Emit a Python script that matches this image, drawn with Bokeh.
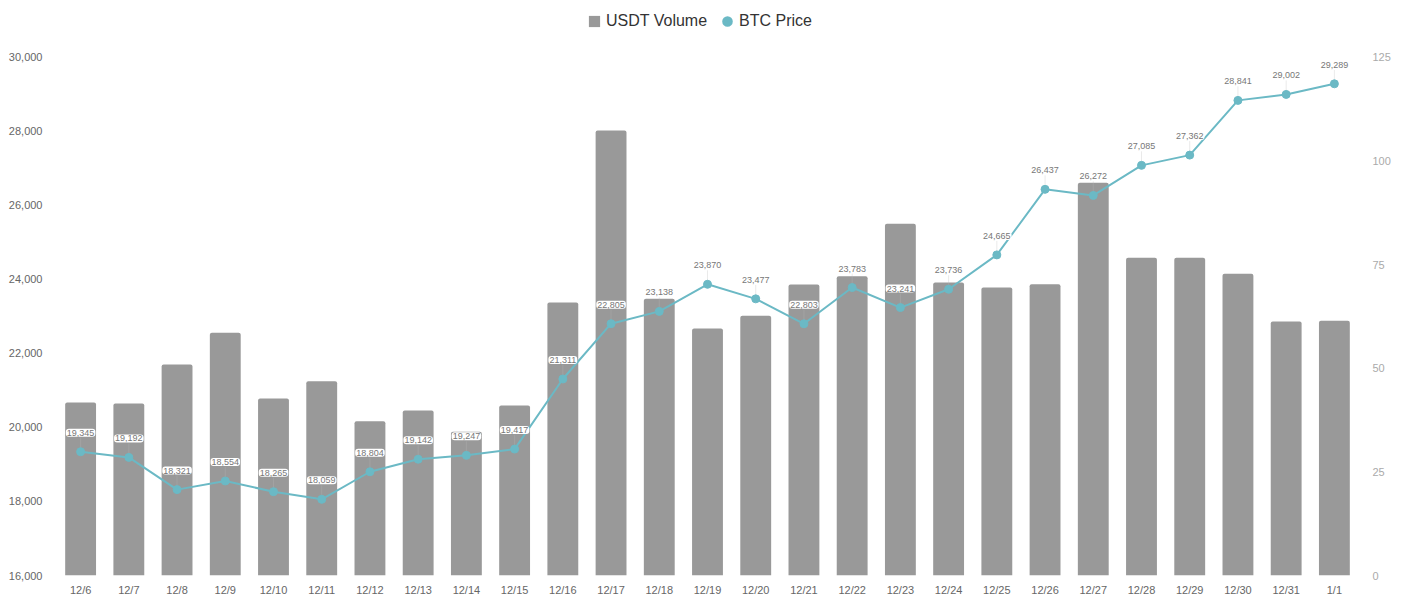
import math
from bokeh.core.properties import value
from bokeh.plotting import figure
from bokeh.models import (ColumnDataSource, FactorRange, Range1d, LinearAxis, FixedTicker,
                          NumeralTickFormatter, Legend, LegendItem)
from bokeh.embed import file_html
from bokeh.resources import INLINE

dates = ["12/6","12/7","12/8","12/9","12/10","12/11","12/12","12/13","12/14","12/15","12/16","12/17","12/18",
         "12/19","12/20","12/21","12/22","12/23","12/24","12/25","12/26","12/27","12/28","12/29","12/30","12/31","1/1"]
btc_price = [19345,19192,18321,18554,18265,18059,18804,19142,19247,19417,21311,22805,23138,
             23870,23477,22803,23783,23241,23736,24665,26437,26272,27085,27362,28841,29002,29289]
usdt_volume = [41.75,41.5,50.9,58.6,42.7,46.9,37.2,39.8,34.7,41.0,65.9,107.4,66.8,
               59.6,62.7,70.2,72.2,84.9,70.7,69.5,70.3,94.8,76.7,76.7,72.8,61.3,61.5]
price_labels = [f"{v:,}" for v in btc_price]
left_ticks = [16000,18000,20000,22000,24000,26000,28000,30000]
right_ticks = [0,25,50,75,100,125]

BAR = "#999999"
TEAL = "#6bb9c5"
FONT = "Liberation Sans"

src = ColumnDataSource(dict(d=dates, price=btc_price, vol=usdt_volume, lab=price_labels))

# the frame runs up to the top of the figure so the legend can sit inside it;
# the ranges are extended to keep the 16,000-30,000 span at its reference height
p = figure(x_range=FactorRange(factors=dates, range_padding=0), y_range=Range1d(16000, 31540.5),
           width=1399, height=598, output_backend="svg", toolbar_location=None,
           min_border_left=56, min_border_right=41, min_border_top=0, min_border_bottom=23,
           outline_line_color=None, background_fill_color="white")
p.extra_y_ranges = {"vol": Range1d(0, 138.75)}
p.grid.visible = False

def style_axis(a, color, size, standoff):
    a.axis_line_color = None
    a.major_tick_line_color = None
    a.minor_tick_line_color = None
    a.major_tick_in = 0
    a.major_tick_out = 0
    a.minor_tick_in = 0
    a.minor_tick_out = 0
    a.major_label_text_color = color
    a.major_label_text_font = FONT
    a.major_label_text_font_size = size
    a.major_label_standoff = standoff

style_axis(p.xaxis[0], "#666666", "11px", 8)

ay = p.yaxis[0]
ay.ticker = FixedTicker(ticks=left_ticks)
ay.formatter = NumeralTickFormatter(format="0,0")
style_axis(ay, "#666666", "11px", 14)

ar = LinearAxis(y_range_name="vol", ticker=FixedTicker(ticks=right_ticks))
style_axis(ar, "#aaaaaa", "11px", 14)
p.add_layout(ar, "right")

bars = p.vbar(x="d", top="vol", bottom=0, width=0.64, source=src, y_range_name="vol",
              fill_color=BAR, line_color=None, border_radius=(2, 2, 0, 0))
p.ray(x="d", y="price", length=14, length_units="screen", angle=math.pi / 2,
      source=src, line_color="#bbbbbb", line_alpha=0.3, line_width=1)
p.line(x="d", y="price", source=src, line_color=TEAL, line_width=2)
key = p.scatter(x="d", y="price", source=src, size=1, marker="circle", fill_color=TEAL,
                line_color=TEAL, line_width=5)
pts = p.scatter(x="d", y="price", source=src, size=8, marker="circle", fill_color=TEAL, line_color=TEAL)

p.text(x="d", y="price", text="lab", source=src, y_offset=-19, text_align="center",
       text_baseline="middle", text_font=value(FONT), text_font_size="9px", text_color="#777777",
       background_fill_color="white", padding=1, border_radius=3, outline_shape="box")

legend = Legend(items=[LegendItem(label="USDT Volume", renderers=[bars]),
                       LegendItem(label="BTC Price", renderers=[key])],
                orientation="horizontal", location=(531, 545), border_line_color=None,
                background_fill_alpha=0, label_text_font=FONT, label_text_font_size="16px",
                label_text_color="#333333", glyph_width=14, glyph_height=14, spacing=13,
                label_standoff=5, padding=2, margin=0)
p.add_layout(legend)

open("out.html", "w").write(file_html(p, INLINE))
